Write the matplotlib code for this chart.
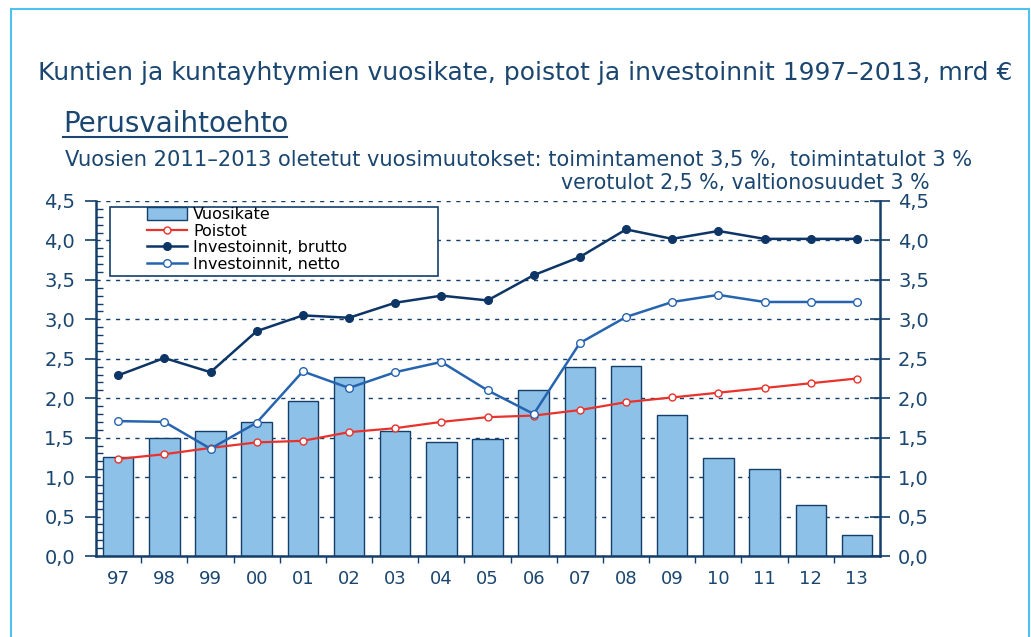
import matplotlib.pyplot as plt
import matplotlib.patches as mpatches
from matplotlib.ticker import MultipleLocator, FixedLocator, NullFormatter

years = ["97", "98", "99", "00", "01", "02", "03", "04", "05", "06",
         "07", "08", "09", "10", "11", "12", "13"]
vuosikate = [1.25, 1.50, 1.58, 1.70, 1.96, 2.27, 1.58, 1.44, 1.48, 2.10,
             2.40, 2.41, 1.79, 1.24, 1.10, 0.65, 0.27]
poistot = [1.23, 1.29, 1.37, 1.44, 1.46, 1.57, 1.62, 1.70, 1.76, 1.78,
           1.85, 1.95, 2.01, 2.07, 2.13, 2.19, 2.25]
brutto = [2.29, 2.51, 2.33, 2.85, 3.05, 3.02, 3.21, 3.30, 3.24, 3.56,
          3.79, 4.14, 4.02, 4.12, 4.02, 4.02, 4.02]
netto = [1.71, 1.70, 1.36, 1.69, 2.34, 2.13, 2.33, 2.46, 2.10, 1.80,
         2.70, 3.03, 3.22, 3.31, 3.22, 3.22, 3.22]
yticks = [0, 0.5, 1.0, 1.5, 2.0, 2.5, 3.0, 3.5, 4.0, 4.5]

navy = "#143f6b"
text_col = "#1a4670"
bar_fill = "#8ec1e7"
red = "#e8322b"
dark = "#0d3566"
mid_blue = "#2764b0"

plt.rcParams['font.family'] = ['DejaVu Sans']

fig = plt.figure(figsize=(10.31, 6.37), dpi=100)
fig.patches.append(mpatches.Rectangle((11 / 1031, -0.05), (1029 - 11) / 1031, 1.05 - 9 / 637,
                                      transform=fig.transFigure, fill=False,
                                      edgecolor="#4fc1ef", linewidth=1.5))

fig.text(38 / 1031, 1 - 73 / 637, "Kuntien ja kuntayhtymien vuosikate, poistot ja investoinnit 1997\u20132013, mrd \u20ac",
         fontsize=18, color=text_col, va="center")
fig.text(63 / 1031, 1 - 124 / 637, "Perusvaihtoehto", fontsize=20, color=text_col, va="center")
fig.add_artist(plt.Line2D([63 / 1031, 287 / 1031], [1 - 137 / 637, 1 - 137 / 637],
                          color=text_col, linewidth=1.5, transform=fig.transFigure))
fig.text(65 / 1031, 1 - 160 / 637,
         "Vuosien 2011\u20132013 oletetut vuosimuutokset: toimintamenot 3,5 %,  toimintatulot 3 %",
         fontsize=15.1, color=text_col, va="center")
fig.text(930 / 1031, 1 - 183 / 637, "verotulot 2,5 %, valtionosuudet 3 %",
         fontsize=14.8, color=text_col, va="center", ha="right")

ax = fig.add_axes([96 / 1031, 81 / 637, 784 / 1031, 355 / 637])
x = list(range(len(years)))

ax.bar(x, vuosikate, width=0.66, color=bar_fill, edgecolor=navy, linewidth=1.0, zorder=2)
ax.plot(x, poistot, color=red, linewidth=1.6, marker="o", markersize=5,
        markerfacecolor="white", markeredgecolor=red, markeredgewidth=1.0, zorder=3)
ax.plot(x, brutto, color=dark, linewidth=1.8, marker="o", markersize=5.5,
        markerfacecolor=dark, markeredgecolor=dark, zorder=4)
ax.plot(x, netto, color=mid_blue, linewidth=1.8, marker="o", markersize=5.5,
        markerfacecolor="white", markeredgecolor=mid_blue, markeredgewidth=1.0, zorder=4)

ax.set_xlim(-0.48, 16.5)
ax.set_ylim(0, 4.5)
ax.yaxis.grid(True, linestyle=(0, (3, 4)), color=navy, linewidth=1.0, zorder=0)
ax.set_axisbelow(True)

ax.set_yticks(yticks)
ax.set_yticklabels([f"{v:.1f}".replace(".", ",") for v in yticks])
ax.yaxis.set_minor_locator(MultipleLocator(0.1))
ax.tick_params(axis="y", which="major", direction="out", length=8, width=1.2,
               color=navy, labelcolor=text_col, labelsize=14, pad=7)
ax.tick_params(axis="y", which="minor", direction="in", length=5, width=1.0, color=navy)

ax.set_xticks(x)
ax.set_xticklabels(years)
ax.xaxis.set_minor_locator(FixedLocator([i + 0.5 for i in range(len(years) - 1)]))
ax.xaxis.set_minor_formatter(NullFormatter())
ax.tick_params(axis="x", which="major", length=0, labelcolor=text_col, labelsize=13, pad=10)
ax.tick_params(axis="x", which="minor", direction="out", length=5, width=1.0, color=navy)

for side in ["left", "bottom"]:
    ax.spines[side].set_color(navy)
    ax.spines[side].set_linewidth(1.8)
ax.spines["top"].set_visible(False)
ax.spines["right"].set_visible(False)

ax2 = ax.twinx()
ax2.set_ylim(0, 4.5)
ax2.set_yticks(yticks)
ax2.set_yticklabels([f"{v:.1f}".replace(".", ",") for v in yticks])
ax2.tick_params(axis="y", direction="inout", length=14, width=1.2, color=navy,
                labelcolor=text_col, labelsize=14, pad=6)
ax2.spines["right"].set_color(navy)
ax2.spines["right"].set_linewidth(1.8)
for side in ["left", "top", "bottom"]:
    ax2.spines[side].set_visible(False)

# legend frame drawn separately (wide box with large left margin)
frame = mpatches.Rectangle(((110 - 96) / 784, (556 - 276) / 355), 328 / 784, 69 / 355,
                           transform=ax2.transAxes, facecolor="white", edgecolor=navy,
                           linewidth=1.2, zorder=9)
ax2.add_patch(frame)

handles = [
    mpatches.Patch(facecolor=bar_fill, edgecolor=navy, linewidth=1.0),
    plt.Line2D([], [], color=red, linewidth=1.6, marker="o", markersize=5,
               markerfacecolor="white", markeredgecolor=red),
    plt.Line2D([], [], color=dark, linewidth=1.8, marker="o", markersize=5.5,
               markerfacecolor=dark),
    plt.Line2D([], [], color=mid_blue, linewidth=1.8, marker="o", markersize=5.5,
               markerfacecolor="white", markeredgecolor=mid_blue),
]
labels = ["Vuosikate", "Poistot", "Investoinnit, brutto", "Investoinnit, netto"]
leg = ax2.legend(handles, labels, loc="upper left",
                 bbox_to_anchor=((147 - 96) / 784, (556 - 207) / 355),
                 fontsize=11.5, frameon=False, borderpad=0.0,
                 labelspacing=0.1, handlelength=2.5, handletextpad=0.4,
                 borderaxespad=0, handleheight=0.85)
for t in leg.get_texts():
    t.set_color("black")
leg.set_zorder(10)

fig.savefig("out.png", dpi=100)
